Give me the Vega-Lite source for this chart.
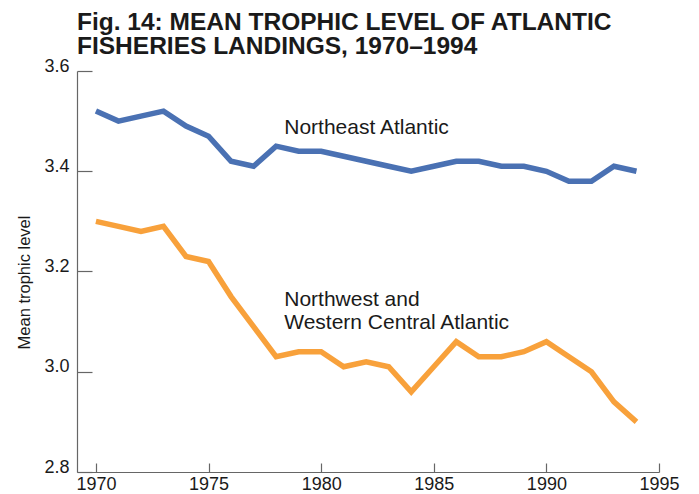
{
  "$schema": "https://vega.github.io/schema/vega-lite/v6.json",
  "width": 582,
  "height": 401,
  "autosize": {"type": "none"},
  "padding": {"left": 77, "top": 71, "right": 40, "bottom": 22},
  "background": "white",
  "config": {
    "view": {"stroke": null},
    "font": "Liberation Sans",
    "text": {"font": "Liberation Sans"}
  },
  "title": {
    "text": ["Fig. 14: MEAN TROPHIC LEVEL OF ATLANTIC", "FISHERIES LANDINGS, 1970–1994"],
    "anchor": "start",
    "frame": "group",
    "font": "Liberation Sans",
    "fontSize": 24.5,
    "fontWeight": "bold",
    "color": "#1a1a1a",
    "lineHeight": 24,
    "offset": -2
  },
  "datasets": {
    "series": [
      {"year": 1970, "value": 3.52, "region": "Northeast Atlantic"},
      {"year": 1971, "value": 3.50, "region": "Northeast Atlantic"},
      {"year": 1972, "value": 3.51, "region": "Northeast Atlantic"},
      {"year": 1973, "value": 3.52, "region": "Northeast Atlantic"},
      {"year": 1974, "value": 3.49, "region": "Northeast Atlantic"},
      {"year": 1975, "value": 3.47, "region": "Northeast Atlantic"},
      {"year": 1976, "value": 3.42, "region": "Northeast Atlantic"},
      {"year": 1977, "value": 3.41, "region": "Northeast Atlantic"},
      {"year": 1978, "value": 3.45, "region": "Northeast Atlantic"},
      {"year": 1979, "value": 3.44, "region": "Northeast Atlantic"},
      {"year": 1980, "value": 3.44, "region": "Northeast Atlantic"},
      {"year": 1981, "value": 3.43, "region": "Northeast Atlantic"},
      {"year": 1982, "value": 3.42, "region": "Northeast Atlantic"},
      {"year": 1983, "value": 3.41, "region": "Northeast Atlantic"},
      {"year": 1984, "value": 3.40, "region": "Northeast Atlantic"},
      {"year": 1985, "value": 3.41, "region": "Northeast Atlantic"},
      {"year": 1986, "value": 3.42, "region": "Northeast Atlantic"},
      {"year": 1987, "value": 3.42, "region": "Northeast Atlantic"},
      {"year": 1988, "value": 3.41, "region": "Northeast Atlantic"},
      {"year": 1989, "value": 3.41, "region": "Northeast Atlantic"},
      {"year": 1990, "value": 3.40, "region": "Northeast Atlantic"},
      {"year": 1991, "value": 3.38, "region": "Northeast Atlantic"},
      {"year": 1992, "value": 3.38, "region": "Northeast Atlantic"},
      {"year": 1993, "value": 3.41, "region": "Northeast Atlantic"},
      {"year": 1994, "value": 3.40, "region": "Northeast Atlantic"},
      {"year": 1970, "value": 3.30, "region": "Northwest and Western Central Atlantic"},
      {"year": 1971, "value": 3.29, "region": "Northwest and Western Central Atlantic"},
      {"year": 1972, "value": 3.28, "region": "Northwest and Western Central Atlantic"},
      {"year": 1973, "value": 3.29, "region": "Northwest and Western Central Atlantic"},
      {"year": 1974, "value": 3.23, "region": "Northwest and Western Central Atlantic"},
      {"year": 1975, "value": 3.22, "region": "Northwest and Western Central Atlantic"},
      {"year": 1976, "value": 3.15, "region": "Northwest and Western Central Atlantic"},
      {"year": 1977, "value": 3.09, "region": "Northwest and Western Central Atlantic"},
      {"year": 1978, "value": 3.03, "region": "Northwest and Western Central Atlantic"},
      {"year": 1979, "value": 3.04, "region": "Northwest and Western Central Atlantic"},
      {"year": 1980, "value": 3.04, "region": "Northwest and Western Central Atlantic"},
      {"year": 1981, "value": 3.01, "region": "Northwest and Western Central Atlantic"},
      {"year": 1982, "value": 3.02, "region": "Northwest and Western Central Atlantic"},
      {"year": 1983, "value": 3.01, "region": "Northwest and Western Central Atlantic"},
      {"year": 1984, "value": 2.96, "region": "Northwest and Western Central Atlantic"},
      {"year": 1985, "value": 3.01, "region": "Northwest and Western Central Atlantic"},
      {"year": 1986, "value": 3.06, "region": "Northwest and Western Central Atlantic"},
      {"year": 1987, "value": 3.03, "region": "Northwest and Western Central Atlantic"},
      {"year": 1988, "value": 3.03, "region": "Northwest and Western Central Atlantic"},
      {"year": 1989, "value": 3.04, "region": "Northwest and Western Central Atlantic"},
      {"year": 1990, "value": 3.06, "region": "Northwest and Western Central Atlantic"},
      {"year": 1991, "value": 3.03, "region": "Northwest and Western Central Atlantic"},
      {"year": 1992, "value": 3.00, "region": "Northwest and Western Central Atlantic"},
      {"year": 1993, "value": 2.94, "region": "Northwest and Western Central Atlantic"},
      {"year": 1994, "value": 2.90, "region": "Northwest and Western Central Atlantic"}
    ],
    "labels": [
      {"year": 1978.36, "value": 3.4737, "label": "Northeast Atlantic"},
      {"year": 1978.36, "value": 3.1306, "label": "Northwest and\nWestern Central Atlantic"}
    ]
  },
  "layer": [
    {
      "data": {"name": "series"},
      "mark": {"type": "line", "strokeWidth": 5.5, "strokeJoin": "miter", "strokeCap": "butt"},
      "encoding": {
        "x": {
          "field": "year", "type": "quantitative",
          "scale": {"domain": [1969.16, 1995], "nice": false, "zero": false},
          "axis": {
            "title": null,
            "values": [1970, 1975, 1980, 1985, 1990, 1995],
            "format": "d",
            "grid": false,
            "labelFlush": false,
            "domainColor": "#666666",
            "domainWidth": 1.2,
            "tickColor": "#666666",
            "tickWidth": 1.2,
            "tickSize": -9,
            "labelPadding": 12,
            "labelFont": "Liberation Sans",
            "labelFontSize": 18,
            "labelColor": "#1a1a1a"
          }
        },
        "y": {
          "field": "value", "type": "quantitative",
          "scale": {"domain": [2.8, 3.6], "nice": false, "zero": false},
          "axis": {
            "title": "Mean trophic level",
            "titleFont": "Liberation Sans",
            "titleFontSize": 16.5,
            "titleFontWeight": "normal",
            "titleColor": "#1a1a1a",
            "titlePadding": 11,
            "titleY": 211,
            "values": [2.8, 3.0, 3.2, 3.4, 3.6],
            "format": ".1f",
            "grid": false,
            "labelFlush": false,
            "domainColor": "#666666",
            "domainWidth": 1.2,
            "tickColor": "#666666",
            "tickWidth": 1.2,
            "tickSize": -15,
            "labelPadding": 23,
            "labelBaseline": "alphabetic",
            "labelFont": "Liberation Sans",
            "labelFontSize": 18,
            "labelColor": "#1a1a1a"
          }
        },
        "color": {
          "field": "region", "type": "nominal",
          "scale": {"domain": ["Northeast Atlantic", "Northwest and Western Central Atlantic"], "range": ["#4a71b3", "#f8a13b"]},
          "legend": null
        }
      }
    },
    {
      "data": {"name": "labels"},
      "mark": {"type": "text", "align": "left", "baseline": "alphabetic", "fontSize": 21, "font": "Liberation Sans", "color": "#1a1a1a", "lineBreak": "\n", "lineHeight": 22.5},
      "encoding": {
        "x": {"field": "year", "type": "quantitative"},
        "y": {"field": "value", "type": "quantitative"},
        "text": {"field": "label"}
      }
    }
  ]
}
